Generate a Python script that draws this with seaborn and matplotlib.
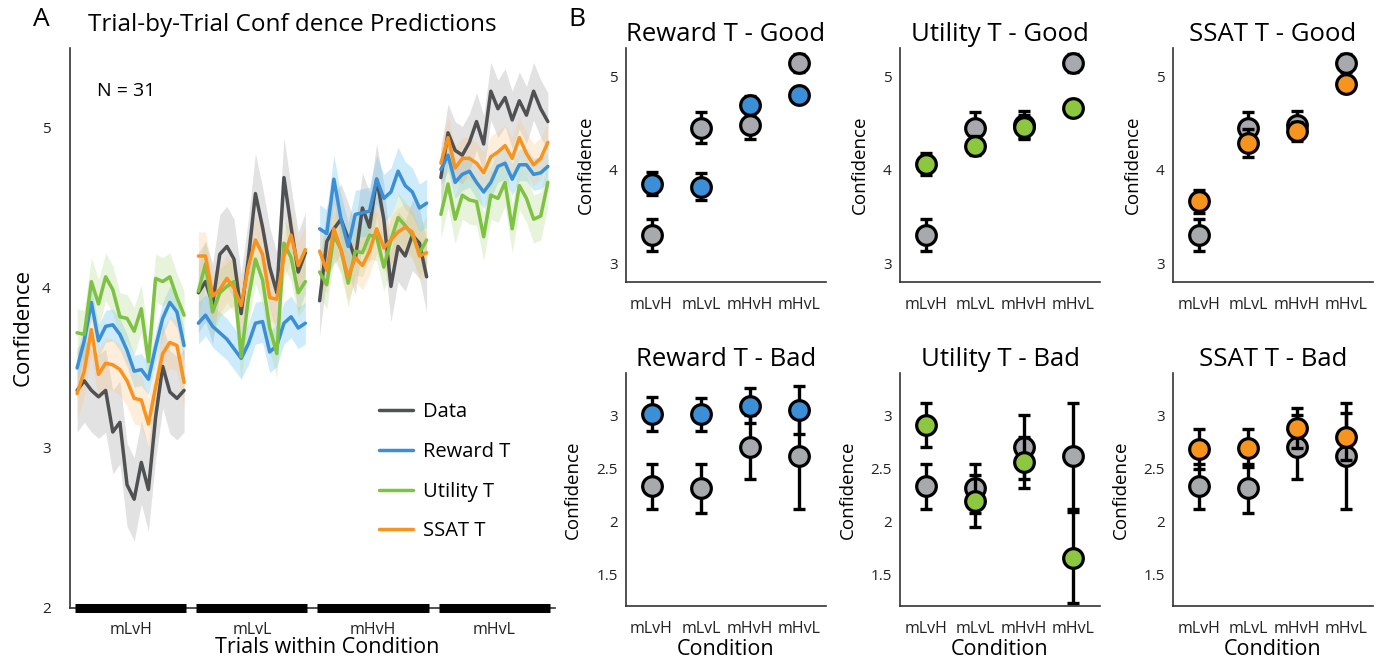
import numpy as np
import pandas as pd
import matplotlib
matplotlib.use("Agg")
import matplotlib.pyplot as plt
import seaborn as sns

# ---------------- data ----------------
conditions = ["mLvH", "mLvL", "mHvH", "mHvL"]
series_names = ["Data", "Reward T", "Utility T", "SSAT T"]

# Panel A: trial-by-trial mean confidence (16 trials per condition)
data_trials = [
    [3.36, 3.42, 3.36, 3.32, 3.36, 3.10, 3.16, 2.77, 2.68, 2.91, 2.74, 3.19, 3.51, 3.35, 3.31, 3.36],
    [3.97, 4.04, 3.90, 4.21, 4.26, 4.18, 3.84, 4.18, 4.59, 4.38, 4.13, 3.97, 4.69, 4.38, 4.10, 4.22],
    [3.92, 4.29, 4.37, 4.43, 4.31, 4.18, 4.50, 4.38, 4.68, 4.43, 4.01, 4.26, 4.20, 4.33, 4.28, 4.07],
    [4.69, 4.97, 4.86, 4.83, 4.91, 5.04, 4.90, 5.23, 5.12, 5.19, 5.05, 5.17, 5.08, 5.23, 5.12, 5.04],
]
reward_trials = [
    [3.50, 3.67, 3.91, 3.67, 3.76, 3.77, 3.71, 3.61, 3.48, 3.49, 3.43, 3.63, 3.81, 3.91, 3.85, 3.64],
    [3.78, 3.83, 3.76, 3.72, 3.68, 3.62, 3.56, 3.65, 3.78, 3.79, 3.60, 3.64, 3.78, 3.82, 3.75, 3.78],
    [4.37, 4.34, 4.68, 4.43, 4.26, 4.46, 4.47, 4.48, 4.68, 4.56, 4.60, 4.73, 4.64, 4.60, 4.50, 4.53],
    [4.74, 4.83, 4.66, 4.71, 4.73, 4.66, 4.60, 4.66, 4.76, 4.78, 4.68, 4.77, 4.77, 4.71, 4.72, 4.76],
]
utility_trials = [
    [3.72, 3.71, 4.04, 3.90, 4.07, 3.99, 3.82, 3.81, 3.73, 3.87, 3.54, 4.06, 4.04, 4.07, 3.94, 3.83],
    [3.98, 4.15, 3.85, 3.97, 4.01, 4.04, 3.57, 3.93, 4.18, 4.05, 3.75, 3.59, 4.28, 4.19, 3.97, 4.04],
    [4.10, 4.02, 4.33, 4.24, 4.03, 4.23, 4.22, 4.33, 4.32, 4.13, 4.30, 4.44, 4.39, 4.33, 4.22, 4.30],
    [4.46, 4.65, 4.43, 4.58, 4.55, 4.54, 4.32, 4.58, 4.56, 4.66, 4.37, 4.64, 4.56, 4.43, 4.45, 4.66],
]
ssat_trials = [
    [3.34, 3.48, 3.74, 3.46, 3.53, 3.52, 3.49, 3.42, 3.31, 3.30, 3.15, 3.38, 3.59, 3.66, 3.64, 3.41],
    [4.20, 4.20, 3.95, 3.99, 4.06, 4.00, 3.89, 4.13, 4.30, 4.21, 3.94, 3.93, 4.20, 4.33, 4.14, 4.24],
    [4.23, 4.11, 4.37, 4.24, 4.07, 4.19, 4.14, 4.23, 4.37, 4.25, 4.30, 4.35, 4.38, 4.35, 4.20, 4.22],
    [4.78, 4.94, 4.75, 4.81, 4.81, 4.78, 4.72, 4.82, 4.85, 4.89, 4.81, 4.94, 4.84, 4.77, 4.81, 4.91],
]
# standard errors (band half-widths) per condition
data_se = [0.26, 0.25, 0.22, 0.18]
reward_se = [0.10, 0.13, 0.15, 0.10]
utility_se = [0.15, 0.15, 0.15, 0.15]
ssat_se = [0.16, 0.15, 0.15, 0.13]

# Panel B: condition means and error bars
good_data_mean = [3.30, 4.45, 4.48, 5.14]
good_data_err = [0.17, 0.165, 0.15, 0.10]
good_reward_mean = [3.85, 3.82, 4.69, 4.80]
good_reward_err = [0.125, 0.14, 0.10, 0.08]
good_utility_mean = [4.06, 4.255, 4.46, 4.66]
good_utility_err = [0.12, 0.10, 0.12, 0.08]
good_ssat_mean = [3.66, 4.28, 4.41, 4.92]
good_ssat_err = [0.12, 0.15, 0.10, 0.08]

bad_data_mean = [2.33, 2.31, 2.70, 2.62]
bad_data_err = [0.21, 0.23, 0.30, 0.50]
bad_reward_mean = [3.01, 3.01, 3.09, 3.05]
bad_reward_err = [0.16, 0.155, 0.165, 0.23]
bad_utility_mean = [2.91, 2.19, 2.555, 1.655]
bad_utility_err = [0.21, 0.245, 0.245, 0.43]
bad_ssat_mean = [2.68, 2.69, 2.88, 2.80]
bad_ssat_err = [0.19, 0.18, 0.19, 0.22]

# ---------------- style ----------------
line_colors = {"Data": "#505152", "Reward T": "#3a8fd6", "Utility T": "#7dc242", "SSAT T": "#f7931e"}
band_colors = {"Data": "#b3b3b3", "Reward T": "#5bc0f0", "Utility T": "#b5d98a", "SSAT T": "#fbc68a"}
marker_colors = {"Data": "#a7a9ac", "Reward T": "#3a8fd6", "Utility T": "#8dc63f", "SSAT T": "#f7941d"}

sns.set_theme(style="white")
plt.rcParams["font.family"] = ["Open Sans", "DejaVu Sans"]
plt.rcParams["axes.linewidth"] = 1.2
plt.rcParams["axes.edgecolor"] = "#333333"
plt.rcParams["text.color"] = "black"
plt.rcParams["axes.labelcolor"] = "black"
plt.rcParams["axes.titlecolor"] = "black"
plt.rcParams["xtick.color"] = "#222222"
plt.rcParams["ytick.color"] = "#222222"

fig = plt.figure(figsize=(13.83, 6.61), dpi=100)

# ---------------- Panel A ----------------
axA = fig.add_axes([0.0506, 0.0802, 0.3507, 0.8472])
gap = 17
rows = []
for name, trials, se in zip(series_names,
                            [data_trials, reward_trials, utility_trials, ssat_trials],
                            [data_se, reward_se, utility_se, ssat_se]):
    for ci, cond in enumerate(conditions):
        for ti, v in enumerate(trials[ci]):
            rows.append({"series": name, "cond": cond, "x": ci * gap + ti, "y": v, "se": se[ci]})
dfA = pd.DataFrame(rows)

for name in series_names:
    for cond in conditions:
        sub = dfA[(dfA.series == name) & (dfA.cond == cond)]
        axA.fill_between(sub.x, sub.y - sub.se, sub.y + sub.se,
                         color=band_colors[name], alpha=0.38 if name == "Data" else 0.3,
                         linewidth=0, zorder=1)
for name in series_names:
    for ci, cond in enumerate(conditions):
        sub = dfA[(dfA.series == name) & (dfA.cond == cond)]
        sns.lineplot(data=sub, x="x", y="y", ax=axA, color=line_colors[name],
                     linewidth=2.5, zorder=3, legend=False)

axA.set_xlim(-1, 67)
axA.set_ylim(2, 5.5)
axA.set_yticks([2, 2.5, 3, 3.5, 4, 4.5, 5, 5.5])
axA.set_yticklabels(["2", "", "3", "", "4", "", "5", ""], fontsize=11)
axA.tick_params(axis="y", direction="in", length=5, width=1.2, color="#333333", pad=14)
centers = [ci * gap + 7.5 for ci in range(4)]
axA.set_xticks(centers)
axA.set_xticklabels(conditions, fontsize=11.5)
axA.tick_params(axis="x", length=0, pad=10)
for ci in range(4):
    axA.plot([ci * gap - 0.3, ci * gap + 15.3], [2, 2], color="black", linewidth=6.5,
             solid_capstyle="butt", clip_on=False, zorder=5)
sns.despine(ax=axA)
axA.set_xlabel("Trials within Condition", fontsize=15.5, labelpad=1)
axA.xaxis.set_label_coords(0.53, -0.052)
axA.set_ylabel("Confidence", fontsize=16, labelpad=6)
axA.set_title("Trial-by-Trial Conf dence Predictions", fontsize=17.5, pad=12, x=0.458)
axA.text(0.055, 0.94, "N = 31", transform=axA.transAxes, fontsize=14, va="top")

handles = [plt.Line2D([], [], color=line_colors[n], linewidth=2.5) for n in series_names]
axA.legend(handles, series_names, frameon=False, fontsize=14.5, loc="upper left",
           bbox_to_anchor=(0.6, 0.4), handlelength=1.7, labelspacing=0.98, handletextpad=0.5)

fig.text(0.030, 0.99, "A", fontsize=19, va="top", ha="center")
fig.text(0.417, 0.99, "B", fontsize=19, va="top", ha="center")

# ---------------- Panel B ----------------
lefts = [0.4526, 0.6508, 0.8482]
width = 0.1446
model_sets = [
    ("Reward T", good_reward_mean, good_reward_err, bad_reward_mean, bad_reward_err),
    ("Utility T", good_utility_mean, good_utility_err, bad_utility_mean, bad_utility_err),
    ("SSAT T", good_ssat_mean, good_ssat_err, bad_ssat_mean, bad_ssat_err),
]
xpos = np.arange(len(conditions))

def draw_panel(ax, model, dmean, derr, mmean, merr, title, ylim, yticks, yticklabels, xlabel):
    for name, mean, err, z in [("Data", dmean, derr, 3), (model, mmean, merr, 5)]:
        ax.errorbar(xpos, mean, yerr=err, fmt="none", ecolor="black", elinewidth=2.4,
                    capsize=4.5, capthick=2.4, zorder=z)
        dfp = pd.DataFrame({"x": xpos, "y": mean})
        sns.scatterplot(data=dfp, x="x", y="y", ax=ax, s=200, color=marker_colors[name],
                        edgecolor="black", linewidth=2.3, zorder=z + 1, legend=False)
    ax.set_xlim(-0.52, 3.54)
    ax.set_ylim(*ylim)
    ax.set_yticks(yticks)
    ax.set_yticklabels(yticklabels, fontsize=11)
    ax.set_xticks(xpos)
    ax.set_xticklabels(conditions, fontsize=11.5)
    ax.tick_params(axis="both", direction="in", length=4, width=1.2, color="#333333")
    ax.tick_params(axis="y", pad=6)
    ax.tick_params(axis="x", pad=11)
    sns.despine(ax=ax)
    ax.set_title(title, fontsize=18.5, pad=5)
    ax.set_ylabel("Confidence", fontsize=13.5, labelpad=10)
    ax.set_xlabel(xlabel, fontsize=15.5, labelpad=1)

for i, (model, gm, ge, bm, be) in enumerate(model_sets):
    axg = fig.add_axes([lefts[i], 0.5734, width, 0.354])
    draw_panel(axg, model, good_data_mean, good_data_err, gm, ge, f"{model} - Good",
               (2.8, 5.3), [3, 4, 5], ["3", "4", "5"], "")
    axb = fig.add_axes([lefts[i], 0.0832, width, 0.3525])
    draw_panel(axb, model, bad_data_mean, bad_data_err, bm, be, f"{model} - Bad",
               (1.2, 3.4), [1.5, 2, 2.5, 3], ["1.5", "2", "2.5", "3"], "Condition")

fig.savefig("out.png", dpi=100)
